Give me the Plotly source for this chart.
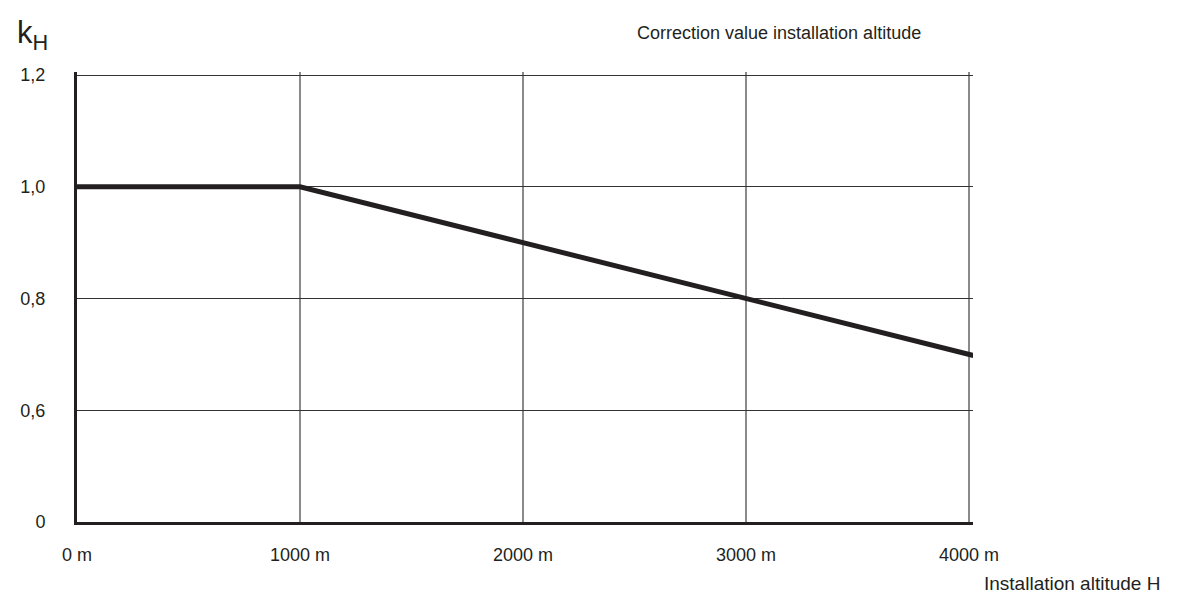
import plotly.graph_objects as go

# altitude derating curve (y axis is broken: "0" label sits where 0.4 would be)
altitude = [0, 1000, 2000, 3000, 4020]
k_h = [1.0, 1.0, 0.9, 0.8, 0.698]

x_ticks = [0, 1000, 2000, 3000, 4000]
x_labels = ["0 m", "1000 m", "2000 m", "3000 m", "4000 m"]
y_ticks = [0.4, 0.6, 0.8, 1.0, 1.2]
y_labels = ["0", "0,6", "0,8", "1,0", "1,2"]

FONT = "Liberation Sans, Arial, sans-serif"
W, H = 1184, 597
OFF = 8  # page body margin shifts the figure by 8px
# plot top sits a few px above the 1,2 gridline, otherwise plotly drops that line
L, T, R, B = 74 - OFF, 72 - OFF, W - (973 - OFF), H - (522 - OFF)
pw, ph = W - L - R, H - T - B
Y_TOP = 1.2 + 0.8 * 3 / (522 - 75)


def px(x):
    return (x - OFF - L) / pw


def py(y):
    return (H - B - (y - OFF)) / ph


def label(text, x, y, size):
    return dict(text=text, x=px(x), y=py(y), xref="paper", yref="paper",
                xanchor="center", yanchor="middle", showarrow=False,
                font=dict(size=size))


fig = go.Figure()
fig.add_trace(go.Scatter(x=altitude, y=k_h, mode="lines",
                         line=dict(color="#231f20", width=5), showlegend=False))

fig.update_layout(
    width=W, height=H,
    margin=dict(l=L, r=R, t=T, b=B),
    paper_bgcolor="white", plot_bgcolor="white",
    font=dict(family=FONT, size=18, color="#231f20"),
    annotations=[
        label("Correction value installation altitude", 778, 33, 18),
        label("Installation altitude H", 1072, 583, 19),
        label("k<sub>H</sub>", 29, 35, 31),
    ],
)

fig.update_xaxes(
    range=[0, 4018], tickvals=x_ticks, ticktext=x_labels,
    showgrid=True, gridcolor="#8a8a8a", gridwidth=1.5,
    showline=True, linecolor="#231f20", linewidth=3,
    zeroline=False, ticks="", ticklabelstandoff=14,
)
fig.update_yaxes(
    range=[0.4, Y_TOP], tickvals=y_ticks, ticktext=y_labels,
    showgrid=True, gridcolor="#333333", gridwidth=1,
    showline=True, linecolor="#231f20", linewidth=3,
    zeroline=False, ticks="", ticklabelstandoff=25,
)

fig.write_html("out.html")
